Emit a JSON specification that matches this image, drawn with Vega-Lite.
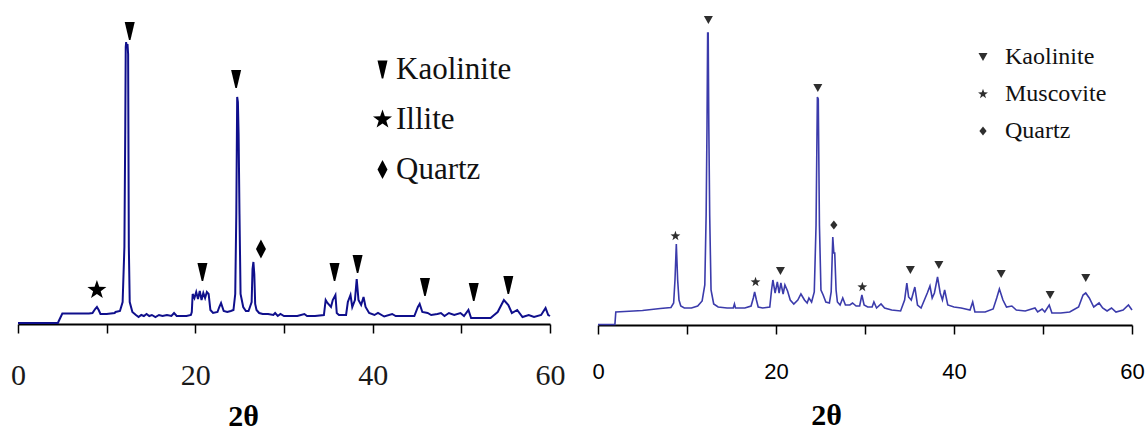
{
  "$schema": "https://vega.github.io/schema/vega-lite/v6.json",
  "background": "white",
  "padding": {"left": 10, "top": 0, "right": 0, "bottom": 0},
  "config": {
    "view": {"stroke": null},
    "axis": {"grid": false}
  },
  "bounds": "flush",
  "spacing": 48,
  "datasets": {
    "left_trace": [
      {"two_theta": 0, "intensity": 1}, {"two_theta": 4.5, "intensity": 1}, {"two_theta": 4.6, "intensity": 3},
      {"two_theta": 5.0, "intensity": 10.5}, {"two_theta": 6, "intensity": 10.5}, {"two_theta": 7, "intensity": 10.5},
      {"two_theta": 8.0, "intensity": 10.5}, {"two_theta": 8.4, "intensity": 11}, {"two_theta": 8.7, "intensity": 15},
      {"two_theta": 8.9, "intensity": 17}, {"two_theta": 9.1, "intensity": 14}, {"two_theta": 9.3, "intensity": 10},
      {"two_theta": 10, "intensity": 10}, {"two_theta": 10.9, "intensity": 11}, {"two_theta": 11.0, "intensity": 12},
      {"two_theta": 11.5, "intensity": 13}, {"two_theta": 11.8, "intensity": 22}, {"two_theta": 12.0, "intensity": 77},
      {"two_theta": 12.1, "intensity": 200}, {"two_theta": 12.15, "intensity": 277}, {"two_theta": 12.2, "intensity": 282},
      {"two_theta": 12.28, "intensity": 276}, {"two_theta": 12.35, "intensity": 280}, {"two_theta": 12.42, "intensity": 270},
      {"two_theta": 12.5, "intensity": 77}, {"two_theta": 12.6, "intensity": 22}, {"two_theta": 12.9, "intensity": 12},
      {"two_theta": 13.3, "intensity": 9}, {"two_theta": 13.6, "intensity": 7}, {"two_theta": 13.9, "intensity": 9},
      {"two_theta": 14.2, "intensity": 8}, {"two_theta": 14.5, "intensity": 10}, {"two_theta": 14.8, "intensity": 8},
      {"two_theta": 15.1, "intensity": 9}, {"two_theta": 15.5, "intensity": 7}, {"two_theta": 15.9, "intensity": 9},
      {"two_theta": 16.3, "intensity": 8}, {"two_theta": 16.8, "intensity": 9}, {"two_theta": 17.3, "intensity": 8},
      {"two_theta": 17.6, "intensity": 11}, {"two_theta": 17.9, "intensity": 8}, {"two_theta": 18.5, "intensity": 8},
      {"two_theta": 19.0, "intensity": 8}, {"two_theta": 19.5, "intensity": 9}, {"two_theta": 19.6, "intensity": 12},
      {"two_theta": 19.7, "intensity": 30}, {"two_theta": 19.9, "intensity": 26}, {"two_theta": 20.1, "intensity": 32},
      {"two_theta": 20.3, "intensity": 25}, {"two_theta": 20.5, "intensity": 33}, {"two_theta": 20.7, "intensity": 24},
      {"two_theta": 20.9, "intensity": 31}, {"two_theta": 21.1, "intensity": 26}, {"two_theta": 21.3, "intensity": 32},
      {"two_theta": 21.5, "intensity": 30}, {"two_theta": 21.7, "intensity": 14}, {"two_theta": 22.0, "intensity": 11},
      {"two_theta": 22.5, "intensity": 12}, {"two_theta": 22.7, "intensity": 17}, {"two_theta": 22.9, "intensity": 21},
      {"two_theta": 23.2, "intensity": 13}, {"two_theta": 23.6, "intensity": 12}, {"two_theta": 24.0, "intensity": 13},
      {"two_theta": 24.3, "intensity": 14}, {"two_theta": 24.5, "intensity": 30}, {"two_theta": 24.62, "intensity": 110},
      {"two_theta": 24.72, "intensity": 227}, {"two_theta": 24.8, "intensity": 222}, {"two_theta": 24.88, "intensity": 190},
      {"two_theta": 24.98, "intensity": 110}, {"two_theta": 25.1, "intensity": 30}, {"two_theta": 25.4, "intensity": 17},
      {"two_theta": 25.7, "intensity": 13}, {"two_theta": 26.0, "intensity": 13}, {"two_theta": 26.2, "intensity": 18},
      {"two_theta": 26.35, "intensity": 22}, {"two_theta": 26.45, "intensity": 55}, {"two_theta": 26.55, "intensity": 62},
      {"two_theta": 26.65, "intensity": 50}, {"two_theta": 26.75, "intensity": 20}, {"two_theta": 26.9, "intensity": 14},
      {"two_theta": 27.2, "intensity": 11}, {"two_theta": 27.6, "intensity": 10}, {"two_theta": 28.2, "intensity": 10},
      {"two_theta": 28.8, "intensity": 9}, {"two_theta": 29.0, "intensity": 11}, {"two_theta": 29.3, "intensity": 8},
      {"two_theta": 29.6, "intensity": 10}, {"two_theta": 30.0, "intensity": 8}, {"two_theta": 30.8, "intensity": 8},
      {"two_theta": 31.5, "intensity": 8}, {"two_theta": 32.3, "intensity": 10}, {"two_theta": 32.6, "intensity": 8},
      {"two_theta": 33.5, "intensity": 8}, {"two_theta": 34.5, "intensity": 9}, {"two_theta": 34.7, "intensity": 24},
      {"two_theta": 34.9, "intensity": 21}, {"two_theta": 35.3, "intensity": 17}, {"two_theta": 35.5, "intensity": 24},
      {"two_theta": 35.8, "intensity": 29}, {"two_theta": 35.95, "intensity": 11}, {"two_theta": 36.2, "intensity": 9},
      {"two_theta": 37.0, "intensity": 9}, {"two_theta": 37.2, "intensity": 22}, {"two_theta": 37.5, "intensity": 29},
      {"two_theta": 37.7, "intensity": 17}, {"two_theta": 38.0, "intensity": 24}, {"two_theta": 38.2, "intensity": 45},
      {"two_theta": 38.4, "intensity": 24}, {"two_theta": 38.7, "intensity": 19}, {"two_theta": 38.97, "intensity": 27},
      {"two_theta": 39.2, "intensity": 17}, {"two_theta": 39.6, "intensity": 11}, {"two_theta": 40.2, "intensity": 9},
      {"two_theta": 40.6, "intensity": 11}, {"two_theta": 41.3, "intensity": 7.5}, {"two_theta": 42.2, "intensity": 10},
      {"two_theta": 42.6, "intensity": 8}, {"two_theta": 44.7, "intensity": 8}, {"two_theta": 45.1, "intensity": 17},
      {"two_theta": 45.3, "intensity": 20}, {"two_theta": 45.6, "intensity": 12}, {"two_theta": 46.2, "intensity": 11},
      {"two_theta": 46.6, "intensity": 9}, {"two_theta": 47.3, "intensity": 10}, {"two_theta": 47.7, "intensity": 11},
      {"two_theta": 48.1, "intensity": 8}, {"two_theta": 48.6, "intensity": 11}, {"two_theta": 49.2, "intensity": 9},
      {"two_theta": 49.9, "intensity": 11}, {"two_theta": 50.3, "intensity": 8}, {"two_theta": 50.8, "intensity": 14},
      {"two_theta": 51.1, "intensity": 6}, {"two_theta": 53.3, "intensity": 6}, {"two_theta": 53.7, "intensity": 9},
      {"two_theta": 54.1, "intensity": 12}, {"two_theta": 54.8, "intensity": 24}, {"two_theta": 55.3, "intensity": 19},
      {"two_theta": 55.7, "intensity": 11}, {"two_theta": 56.3, "intensity": 14}, {"two_theta": 56.9, "intensity": 7},
      {"two_theta": 57.6, "intensity": 9}, {"two_theta": 58.2, "intensity": 7}, {"two_theta": 59.0, "intensity": 9},
      {"two_theta": 59.5, "intensity": 16}, {"two_theta": 59.8, "intensity": 9}, {"two_theta": 60, "intensity": 8}
    ],
    "right_trace": [
      {"two_theta": 0, "intensity": 0.5}, {"two_theta": 1.9, "intensity": 0.5}, {"two_theta": 2.0, "intensity": 13},
      {"two_theta": 3, "intensity": 13.5}, {"two_theta": 4, "intensity": 14}, {"two_theta": 5, "intensity": 14.5},
      {"two_theta": 6, "intensity": 15.5}, {"two_theta": 7, "intensity": 16.5}, {"two_theta": 8.2, "intensity": 17.5},
      {"two_theta": 8.5, "intensity": 22}, {"two_theta": 8.65, "intensity": 45}, {"two_theta": 8.8, "intensity": 81},
      {"two_theta": 8.95, "intensity": 45}, {"two_theta": 9.1, "intensity": 25}, {"two_theta": 9.3, "intensity": 19},
      {"two_theta": 9.7, "intensity": 17}, {"two_theta": 10.5, "intensity": 17}, {"two_theta": 11.2, "intensity": 19},
      {"two_theta": 11.7, "intensity": 24}, {"two_theta": 12.0, "intensity": 40}, {"two_theta": 12.15, "intensity": 110},
      {"two_theta": 12.25, "intensity": 200}, {"two_theta": 12.32, "intensity": 292}, {"two_theta": 12.38, "intensity": 292},
      {"two_theta": 12.45, "intensity": 200}, {"two_theta": 12.55, "intensity": 110}, {"two_theta": 12.7, "intensity": 35},
      {"two_theta": 13.0, "intensity": 21}, {"two_theta": 13.5, "intensity": 18}, {"two_theta": 14.5, "intensity": 17},
      {"two_theta": 15.2, "intensity": 17}, {"two_theta": 15.33, "intensity": 21}, {"two_theta": 15.45, "intensity": 17},
      {"two_theta": 16.5, "intensity": 17}, {"two_theta": 17.2, "intensity": 19}, {"two_theta": 17.45, "intensity": 27},
      {"two_theta": 17.6, "intensity": 33}, {"two_theta": 17.8, "intensity": 25}, {"two_theta": 18.0, "intensity": 18},
      {"two_theta": 18.5, "intensity": 17}, {"two_theta": 19.3, "intensity": 18}, {"two_theta": 19.5, "intensity": 35},
      {"two_theta": 19.65, "intensity": 45}, {"two_theta": 19.9, "intensity": 32}, {"two_theta": 20.15, "intensity": 43},
      {"two_theta": 20.35, "intensity": 32}, {"two_theta": 20.55, "intensity": 42}, {"two_theta": 20.8, "intensity": 31},
      {"two_theta": 21.0, "intensity": 40}, {"two_theta": 21.3, "intensity": 34}, {"two_theta": 21.6, "intensity": 25},
      {"two_theta": 22.0, "intensity": 21}, {"two_theta": 22.45, "intensity": 25}, {"two_theta": 22.8, "intensity": 31},
      {"two_theta": 23.2, "intensity": 25}, {"two_theta": 23.5, "intensity": 22}, {"two_theta": 23.7, "intensity": 27},
      {"two_theta": 24.0, "intensity": 23}, {"two_theta": 24.3, "intensity": 33}, {"two_theta": 24.5, "intensity": 100},
      {"two_theta": 24.65, "intensity": 228}, {"two_theta": 24.75, "intensity": 226}, {"two_theta": 24.88, "intensity": 100},
      {"two_theta": 25.05, "intensity": 35}, {"two_theta": 25.3, "intensity": 30}, {"two_theta": 25.6, "intensity": 23},
      {"two_theta": 26.0, "intensity": 22}, {"two_theta": 26.2, "intensity": 33}, {"two_theta": 26.38, "intensity": 88},
      {"two_theta": 26.5, "intensity": 72}, {"two_theta": 26.6, "intensity": 72}, {"two_theta": 26.75, "intensity": 35},
      {"two_theta": 26.9, "intensity": 23}, {"two_theta": 27.2, "intensity": 20}, {"two_theta": 27.5, "intensity": 27},
      {"two_theta": 27.8, "intensity": 20}, {"two_theta": 28.3, "intensity": 20}, {"two_theta": 28.6, "intensity": 22},
      {"two_theta": 29.0, "intensity": 19}, {"two_theta": 29.4, "intensity": 19}, {"two_theta": 29.65, "intensity": 30},
      {"two_theta": 29.9, "intensity": 20}, {"two_theta": 30.3, "intensity": 18}, {"two_theta": 30.8, "intensity": 18},
      {"two_theta": 31.0, "intensity": 23}, {"two_theta": 31.3, "intensity": 17}, {"two_theta": 31.8, "intensity": 21},
      {"two_theta": 32.2, "intensity": 17}, {"two_theta": 33, "intensity": 15}, {"two_theta": 34.0, "intensity": 14},
      {"two_theta": 34.45, "intensity": 25}, {"two_theta": 34.7, "intensity": 42}, {"two_theta": 34.9, "intensity": 28},
      {"two_theta": 35.2, "intensity": 25}, {"two_theta": 35.6, "intensity": 38}, {"two_theta": 35.9, "intensity": 20},
      {"two_theta": 36.3, "intensity": 17}, {"two_theta": 37.0, "intensity": 32}, {"two_theta": 37.3, "intensity": 39},
      {"two_theta": 37.55, "intensity": 27}, {"two_theta": 37.8, "intensity": 32}, {"two_theta": 38.15, "intensity": 48},
      {"two_theta": 38.45, "intensity": 32}, {"two_theta": 38.7, "intensity": 25}, {"two_theta": 38.95, "intensity": 35},
      {"two_theta": 39.3, "intensity": 20}, {"two_theta": 40.0, "intensity": 18}, {"two_theta": 40.8, "intensity": 17},
      {"two_theta": 41.8, "intensity": 15}, {"two_theta": 42.1, "intensity": 23}, {"two_theta": 42.35, "intensity": 13},
      {"two_theta": 43.5, "intensity": 13}, {"two_theta": 44.4, "intensity": 16}, {"two_theta": 44.8, "intensity": 27},
      {"two_theta": 45.1, "intensity": 36}, {"two_theta": 45.5, "intensity": 25}, {"two_theta": 45.9, "intensity": 18},
      {"two_theta": 46.5, "intensity": 19}, {"two_theta": 47.0, "intensity": 15}, {"two_theta": 48.0, "intensity": 14},
      {"two_theta": 49.1, "intensity": 17}, {"two_theta": 49.4, "intensity": 13}, {"two_theta": 49.9, "intensity": 16},
      {"two_theta": 50.2, "intensity": 13}, {"two_theta": 50.7, "intensity": 20}, {"two_theta": 51.0, "intensity": 12},
      {"two_theta": 52.0, "intensity": 12}, {"two_theta": 53.0, "intensity": 13}, {"two_theta": 54.0, "intensity": 18},
      {"two_theta": 54.5, "intensity": 30}, {"two_theta": 54.8, "intensity": 32}, {"two_theta": 55.2, "intensity": 27},
      {"two_theta": 55.7, "intensity": 18}, {"two_theta": 56.3, "intensity": 22}, {"two_theta": 56.7, "intensity": 17},
      {"two_theta": 57.2, "intensity": 14}, {"two_theta": 57.7, "intensity": 17}, {"two_theta": 58.2, "intensity": 13},
      {"two_theta": 59.0, "intensity": 15}, {"two_theta": 59.6, "intensity": 20}, {"two_theta": 60, "intensity": 15}
    ],
    "left_peaks": [
      {"phase": "Illite", "two_theta": 8.9, "mark_level": 34},
      {"phase": "Kaolinite", "two_theta": 12.6, "mark_level": 293},
      {"phase": "Kaolinite", "two_theta": 20.8, "mark_level": 52},
      {"phase": "Kaolinite", "two_theta": 24.6, "mark_level": 245},
      {"phase": "Quartz", "two_theta": 27.4, "mark_level": 75},
      {"phase": "Kaolinite", "two_theta": 35.7, "mark_level": 52},
      {"phase": "Kaolinite", "two_theta": 38.3, "mark_level": 60},
      {"phase": "Kaolinite", "two_theta": 45.9, "mark_level": 37},
      {"phase": "Kaolinite", "two_theta": 51.4, "mark_level": 32},
      {"phase": "Kaolinite", "two_theta": 55.3, "mark_level": 39}
    ],
    "right_peaks": [
      {"phase": "Muscovite", "two_theta": 8.7, "mark_level": 89},
      {"phase": "Kaolinite", "two_theta": 12.4, "mark_level": 305},
      {"phase": "Muscovite", "two_theta": 17.7, "mark_level": 43},
      {"phase": "Kaolinite", "two_theta": 20.5, "mark_level": 54},
      {"phase": "Kaolinite", "two_theta": 24.7, "mark_level": 237},
      {"phase": "Quartz", "two_theta": 26.5, "mark_level": 100},
      {"phase": "Muscovite", "two_theta": 29.7, "mark_level": 38},
      {"phase": "Kaolinite", "two_theta": 35.1, "mark_level": 55},
      {"phase": "Kaolinite", "two_theta": 38.3, "mark_level": 60},
      {"phase": "Kaolinite", "two_theta": 45.3, "mark_level": 51},
      {"phase": "Kaolinite", "two_theta": 50.8, "mark_level": 30},
      {"phase": "Kaolinite", "two_theta": 54.8, "mark_level": 47}
    ]
  },
  "resolve": {
    "scale": {"x": "independent", "y": "independent", "shape": "independent"},
    "legend": {"shape": "independent"}
  },
  "hconcat": [
    {
      "width": 532,
      "height": 324,
      "layer": [
        {
          "data": {"name": "left_trace"},
          "mark": {"type": "line", "color": "#0f0f8c", "strokeWidth": 2, "interpolate": "linear"},
          "encoding": {
            "x": {
              "field": "two_theta", "type": "quantitative",
              "scale": {"domain": [0, 60], "nice": false, "zero": false},
              "axis": {
                "title": "2θ", "values": [0, 10, 20, 30, 40, 50, 60],
                "labelExpr": "datum.value % 20 === 0 ? datum.label : ''",
                "domainColor": "black", "domainWidth": 2,
                "tickColor": "black", "tickWidth": 1.5, "tickSize": 9,
                "labelFont": "Liberation Serif", "labelFontSize": 30, "labelColor": "#1a1a1a",
                "labelBaseline": "alphabetic", "labelPadding": 51,
                "labelFlush": false, "labelOverlap": false, "labelBound": false,
                "titleFont": "Liberation Serif", "titleFontWeight": "bold", "titleFontSize": 30, "titleColor": "black",
                "titleX": 225, "titleY": 101, "titleAlign": "center", "titleBaseline": "alphabetic"
              }
            },
            "y": {
              "field": "intensity", "type": "quantitative",
              "scale": {"domain": [0, 324], "nice": false},
              "axis": null
            }
          }
        },
        {
          "data": {"name": "left_peaks"},
          "mark": {"type": "point", "filled": true, "opacity": 1, "color": "black", "size": 100, "strokeWidth": 0},
          "encoding": {
            "x": {"field": "two_theta", "type": "quantitative"},
            "y": {"field": "mark_level", "type": "quantitative"},
            "shape": {
              "field": "phase", "type": "nominal",
              "scale": {
                "domain": ["Kaolinite", "Illite", "Quartz"],
                "range": [
                  "M-1,-1.8L1,-1.8L0.15,1.8L-0.15,1.8Z",
                  "M0,-2L0.47,-0.648L1.902,-0.618L0.76,0.248L1.176,1.618L0,0.8L-1.176,1.618L-0.76,0.248L-1.902,-0.618L-0.47,-0.648Z",
                  "M0,-1.9L1,0L0,1.9L-1,0Z"
                ]
              },
              "legend": {
                "orient": "none", "legendX": 349, "legendY": 54, "title": null,
                "padding": 0, "symbolSize": 100, "symbolFillColor": "black", "symbolStrokeWidth": 0,
                "labelFont": "Liberation Serif", "labelFontSize": 31, "labelColor": "#111111",
                "labelOffset": -2, "rowPadding": 18,
                "encode": {
                  "labels": {
                    "dx": {"value": {"expr": "datum.value === 'Illite' ? 25 : datum.value === 'Quartz' ? 8 : 0"}}
                  }
                }
              }
            }
          }
        }
      ]
    },
    {
      "width": 534,
      "height": 325,
      "layer": [
        {
          "data": {"name": "right_trace"},
          "mark": {"type": "line", "color": "#3b3bab", "strokeWidth": 1.6, "interpolate": "linear"},
          "encoding": {
            "x": {
              "field": "two_theta", "type": "quantitative",
              "scale": {"domain": [0, 60], "nice": false, "zero": false},
              "axis": {
                "title": "2θ", "values": [0, 10, 20, 30, 40, 50, 60],
                "labelExpr": "datum.value % 20 === 0 ? datum.label : ''",
                "domainColor": "black", "domainWidth": 2,
                "tickColor": "black", "tickWidth": 1.5, "tickSize": 9,
                "labelFont": "Liberation Sans", "labelFontSize": 22, "labelColor": "black",
                "labelBaseline": "alphabetic", "labelPadding": 44,
                "labelFlush": false, "labelOverlap": false, "labelBound": false,
                "titleFont": "Liberation Serif", "titleFontWeight": "bold", "titleFontSize": 30, "titleColor": "black",
                "titleX": 228, "titleY": 99, "titleAlign": "center", "titleBaseline": "alphabetic"
              }
            },
            "y": {
              "field": "intensity", "type": "quantitative",
              "scale": {"domain": [0, 325], "nice": false},
              "axis": null
            }
          }
        },
        {
          "data": {"name": "right_peaks"},
          "mark": {"type": "point", "filled": true, "opacity": 1, "color": "#2e2e2e", "size": 81, "strokeWidth": 0},
          "encoding": {
            "x": {"field": "two_theta", "type": "quantitative"},
            "y": {"field": "mark_level", "type": "quantitative"},
            "shape": {
              "field": "phase", "type": "nominal",
              "scale": {
                "domain": ["Kaolinite", "Muscovite", "Quartz"],
                "range": [
                  "M-1,-0.9L1,-0.9L0,0.9Z",
                  "M0,-1.15L0.27,-0.373L1.094,-0.355L0.437,0.143L0.676,0.93L0,0.46L-0.676,0.93L-0.437,0.143L-1.094,-0.355L-0.27,-0.373Z",
                  "M0,-1L0.8,0L0,1L-0.8,0Z"
                ]
              },
              "legend": {
                "orient": "none", "legendX": 373, "legendY": 45, "title": null,
                "padding": 0, "symbolSize": 81, "symbolFillColor": "#2e2e2e", "symbolStrokeWidth": 0,
                "labelFont": "Liberation Serif", "labelFontSize": 24, "labelColor": "#111111",
                "labelOffset": 10, "rowPadding": 13
              }
            }
          }
        }
      ]
    }
  ]
}
